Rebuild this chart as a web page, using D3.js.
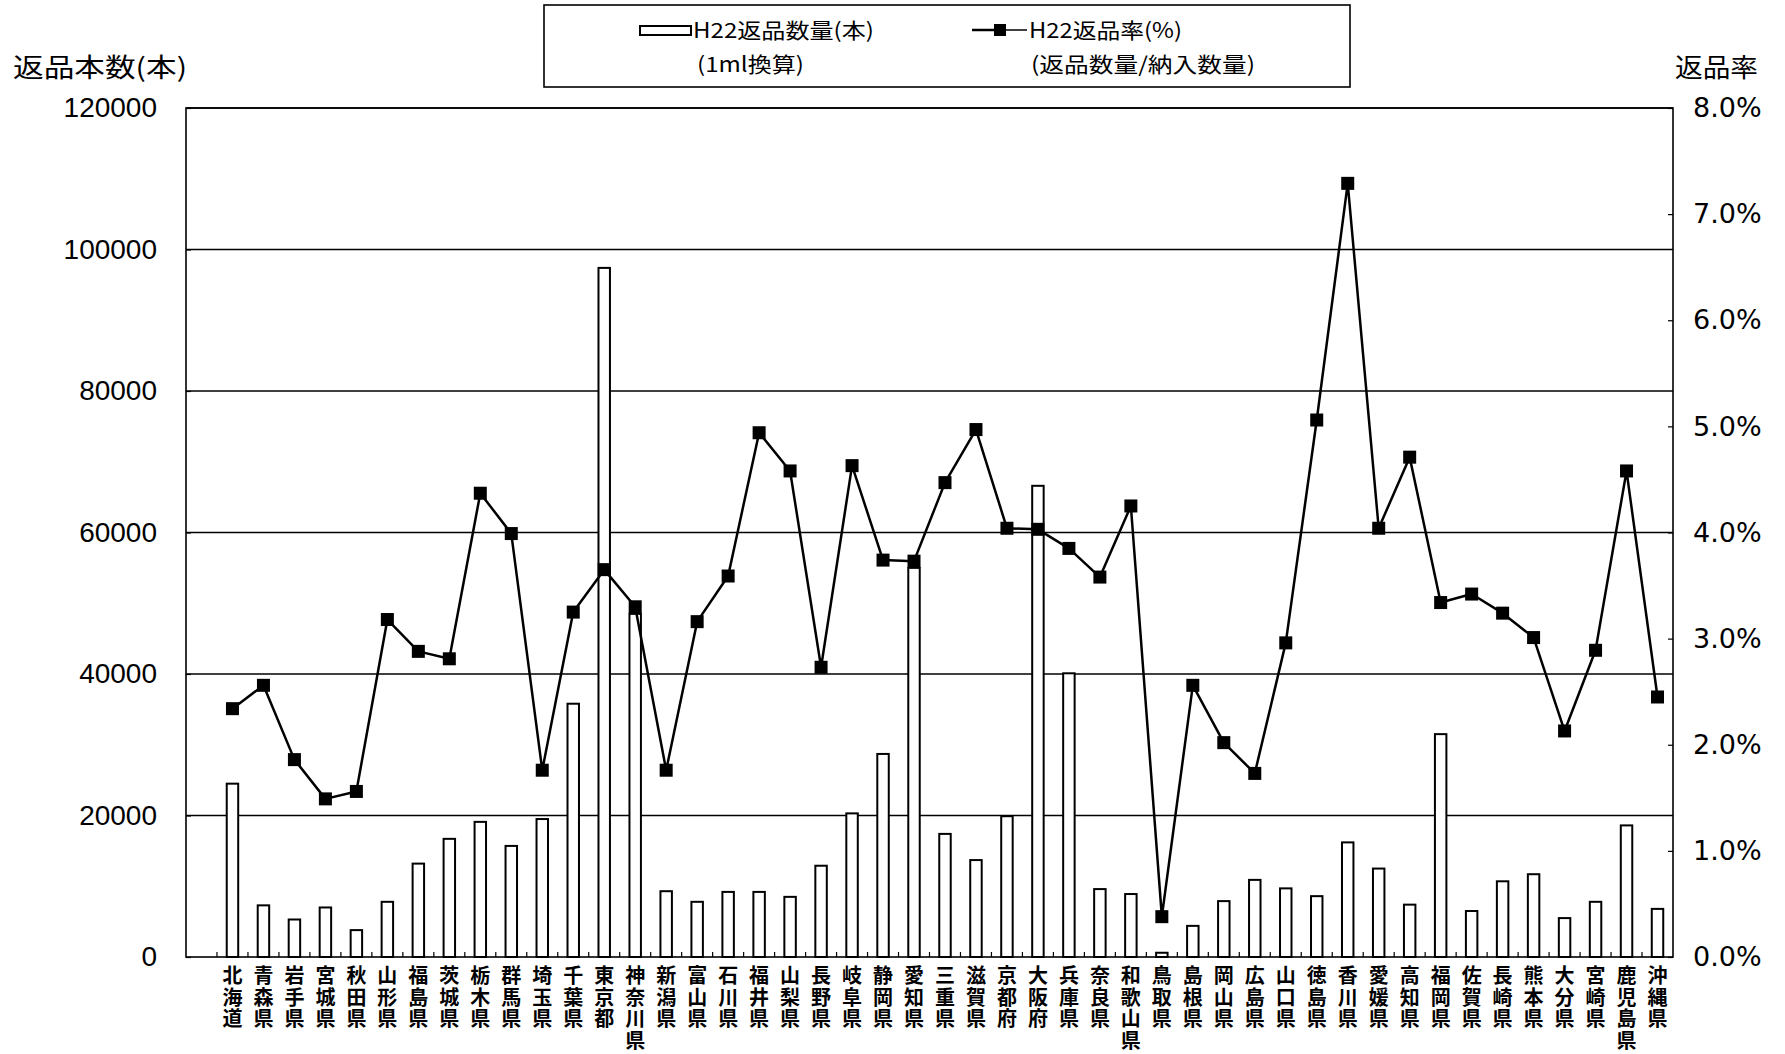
<!DOCTYPE html>
<html>
<head>
<meta charset="utf-8">
<script src="https://cdn.jsdelivr.net/npm/d3@7/dist/d3.min.js"></script>
<style>
  html, body { margin: 0; padding: 0; background: #fff; }
  svg { display: block; }
  .cjk { font-family: "Noto Sans CJK JP", "Noto Sans CJK SC", sans-serif; }
</style>
</head>
<body>
<svg id="chart" width="1785" height="1054"></svg>
<script>
// ---- data ----
const prefectures = ["北海道","青森県","岩手県","宮城県","秋田県","山形県","福島県","茨城県","栃木県","群馬県",
  "埼玉県","千葉県","東京都","神奈川県","新潟県","富山県","石川県","福井県","山梨県","長野県",
  "岐阜県","静岡県","愛知県","三重県","滋賀県","京都府","大阪府","兵庫県","奈良県","和歌山県",
  "鳥取県","島根県","岡山県","広島県","山口県","徳島県","香川県","愛媛県","高知県","福岡県",
  "佐賀県","長崎県","熊本県","大分県","宮崎県","鹿児島県","沖縄県"];
const returnCounts = [24500, 7300, 5300, 7000, 3800, 7800, 13200, 16700, 19100, 15700,
  19500, 35800, 97400, 48500, 9300, 7800, 9200, 9200, 8500, 12900,
  20300, 28700, 55000, 17400, 13700, 19900, 66600, 40100, 9600, 8900,
  600, 4400, 7900, 10900, 9700, 8600, 16200, 12500, 7400, 31500,
  6500, 10700, 11700, 5500, 7800, 18600, 6800];
const returnRates = [2.34, 2.56, 1.86, 1.49, 1.56, 3.18, 2.88, 2.81, 4.37, 3.99,
  1.76, 3.25, 3.65, 3.30, 1.76, 3.16, 3.59, 4.94, 4.58, 2.73,
  4.63, 3.74, 3.73, 4.47, 4.97, 4.04, 4.03, 3.85, 3.58, 4.25,
  0.38, 2.56, 2.02, 1.73, 2.96, 5.06, 7.29, 4.04, 4.71, 3.34,
  3.42, 3.24, 3.01, 2.13, 2.89, 4.58, 2.45];
const leftTicks = [0, 20000, 40000, 60000, 80000, 100000, 120000];
const rightTicks = [0, 1, 2, 3, 4, 5, 6, 7, 8];
const leftTitle = "返品本数(本)";
const rightTitle = "返品率";
const legendBar = ["H22返品数量(本)", "(1ml換算)"];
const legendLine = ["H22返品率(%)", "(返品数量/納入数量)"];

// ---- layout ----
const L = 186, R = 1673, T = 108, B = 957;
const svg = d3.select("#chart");

const x = d3.scaleBand().domain(["", ...prefectures]).range([L, R]).paddingInner(0).paddingOuter(0);
const yL = d3.scaleLinear().domain([0, 120000]).range([B, T]);
const yR = d3.scaleLinear().domain([0, 8]).range([B, T]);
const bw = x.bandwidth();
const barW = bw * 0.37;
const cx = d => x(d) + bw / 2;

// gridlines
svg.append("g").selectAll("line").data(leftTicks.filter(d => d > 0)).join("line")
  .attr("x1", L).attr("x2", R).attr("y1", d => yL(d)).attr("y2", d => yL(d))
  .attr("stroke", "#000").attr("stroke-width", 1.4);

// bars
const data = prefectures.map((p, i) => ({ p, v: returnCounts[i], r: returnRates[i] }));
svg.append("g").selectAll("rect").data(data).join("rect")
  .attr("x", d => cx(d.p) - barW / 2)
  .attr("y", d => yL(d.v))
  .attr("width", barW)
  .attr("height", d => B - yL(d.v))
  .attr("fill", "#fff").attr("stroke", "#000").attr("stroke-width", 2);

// frame
svg.append("rect").attr("x", L).attr("y", T).attr("width", R - L).attr("height", B - T)
  .attr("fill", "none").attr("stroke", "#000").attr("stroke-width", 1.6);

// left axis
const gl = svg.append("g").attr("transform", `translate(${L},0)`)
  .call(d3.axisLeft(yL).tickValues(leftTicks).tickFormat(d3.format("d")).tickSizeInner(-5).tickSizeOuter(0).tickPadding(29));
gl.select(".domain").remove();
gl.selectAll(".tick line").attr("stroke", "#000").attr("stroke-width", 1.2);
gl.selectAll("text").attr("font-family", "'Liberation Sans', Arial, sans-serif").attr("font-size", 28).attr("fill", "#000");

// right axis
const gr = svg.append("g").attr("transform", `translate(${R},0)`)
  .call(d3.axisRight(yR).tickValues(rightTicks).tickFormat(d => d3.format(".1f")(d) + "%").tickSizeInner(-5).tickSizeOuter(0).tickPadding(20));
gr.select(".domain").remove();
gr.selectAll(".tick line").attr("stroke", "#000").attr("stroke-width", 1.2);
gr.selectAll("text").attr("font-family", "'DejaVu Sans', Verdana, sans-serif").attr("font-size", 27).attr("fill", "#000");

// bottom ticks at category boundaries (inside)
const bounds = x.domain().map(d => x(d)).concat([R]);
svg.append("g").selectAll("line").data(bounds.slice(1, -1)).join("line")
  .attr("x1", d => d).attr("x2", d => d).attr("y1", B).attr("y2", B - 5)
  .attr("stroke", "#000").attr("stroke-width", 1.2);

// category labels (vertical, stacked characters)
const lab = svg.append("g").attr("class", "cjk");
lab.selectAll("text").data(prefectures).join("text")
  .attr("x", d => cx(d)).attr("y", 983)
  .attr("text-anchor", "middle").attr("font-size", 20).attr("font-weight", "bold").attr("fill", "#000")
  .each(function(d) {
    const t = d3.select(this);
    Array.from(d).forEach((ch, i) => {
      t.append("tspan").attr("x", cx(d)).attr("dy", i === 0 ? 0 : 21.5).text(ch);
    });
  });

// line + markers
const line = d3.line().x(d => cx(d.p)).y(d => yR(d.r));
svg.append("path").datum(data).attr("d", line)
  .attr("fill", "none").attr("stroke", "#000").attr("stroke-width", 2.5).attr("stroke-linejoin", "round");
const ms = 13;
svg.append("g").selectAll("rect").data(data).join("rect")
  .attr("x", d => cx(d.p) - ms / 2).attr("y", d => yR(d.r) - ms / 2)
  .attr("width", ms).attr("height", ms).attr("fill", "#000");

// axis titles
svg.append("text").attr("class", "cjk").attr("x", 13).attr("y", 77)
  .attr("font-size", 26).attr("textLength", 174).attr("lengthAdjust", "spacingAndGlyphs").attr("fill", "#000").text(leftTitle);
svg.append("text").attr("class", "cjk").attr("x", 1675).attr("y", 77)
  .attr("font-size", 26).attr("textLength", 83).attr("lengthAdjust", "spacingAndGlyphs").attr("fill", "#000").text(rightTitle);

// legend
const lg = svg.append("g").attr("class", "cjk");
lg.append("rect").attr("x", 544).attr("y", 5).attr("width", 806).attr("height", 82)
  .attr("fill", "#fff").attr("stroke", "#000").attr("stroke-width", 1.6);
lg.append("rect").attr("x", 640).attr("y", 26).attr("width", 51).attr("height", 9)
  .attr("fill", "#fff").attr("stroke", "#000").attr("stroke-width", 2);
lg.append("text").attr("x", 693).attr("y", 38).attr("font-size", 21)
  .attr("textLength", 181).attr("lengthAdjust", "spacingAndGlyphs").attr("fill", "#000").text(legendBar[0]);
lg.append("text").attr("x", 697).attr("y", 72).attr("font-size", 21)
  .attr("textLength", 107).attr("lengthAdjust", "spacingAndGlyphs").attr("fill", "#000").text(legendBar[1]);
lg.append("line").attr("x1", 972).attr("x2", 996).attr("y1", 30).attr("y2", 30).attr("stroke", "#000").attr("stroke-width", 2.5);
lg.append("line").attr("x1", 1004).attr("x2", 1027).attr("y1", 30).attr("y2", 30).attr("stroke", "#000").attr("stroke-width", 1.5);
lg.append("rect").attr("x", 994).attr("y", 24).attr("width", 12).attr("height", 12).attr("fill", "#000");
lg.append("text").attr("x", 1029).attr("y", 38).attr("font-size", 21)
  .attr("textLength", 153).attr("lengthAdjust", "spacingAndGlyphs").attr("fill", "#000").text(legendLine[0]);
lg.append("text").attr("x", 1031).attr("y", 72).attr("font-size", 21)
  .attr("textLength", 224).attr("lengthAdjust", "spacingAndGlyphs").attr("fill", "#000").text(legendLine[1]);
</script>
</body>
</html>
